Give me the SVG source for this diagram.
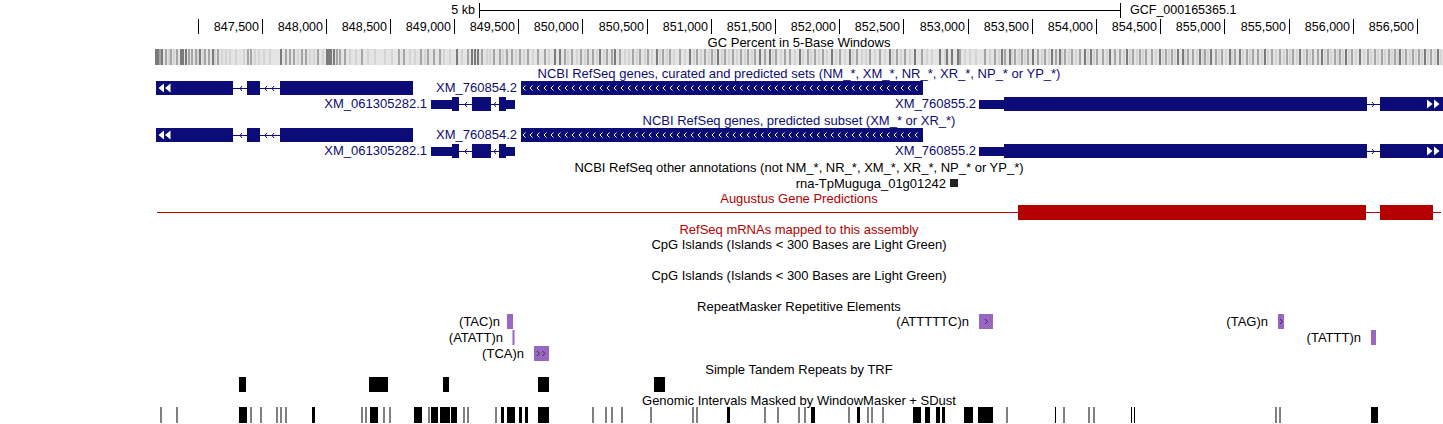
<svg xmlns="http://www.w3.org/2000/svg" width="1443" height="424" viewBox="0 0 1443 424">
<style>
text{font-family:"Liberation Sans",Arial,sans-serif;font-size:13px;fill:#000}
.r{font-size:12.5px}
.t{text-anchor:middle}
.e{text-anchor:end}
.nv{fill:#0c0c78}
.rd{fill:#b40000}
.tick{stroke:#000;stroke-width:1}
.gene{fill:#0c0c78}
.intr{stroke:#0c0c78;stroke-width:1;fill:none}
.rep{fill:#9966c4}
.repc{stroke:#222;stroke-width:0.8;fill:none}
.blk{fill:#000}
.wtri{fill:#fff}
</style>
<defs>
<pattern id="chev1" x="521" y="81" width="7" height="14" patternUnits="userSpaceOnUse">
<path d="M4.5 4.5L2 7L4.5 9.5" stroke="#fff" stroke-width="1" fill="none"/>
</pattern>
<pattern id="chev2" x="521" y="128" width="7" height="14" patternUnits="userSpaceOnUse">
<path d="M4.5 4.5L2 7L4.5 9.5" stroke="#fff" stroke-width="1" fill="none"/>
</pattern>
</defs>
<rect width="1443" height="424" fill="#fff"/>

<g id="ruler">
<text x="475" y="14" class="e r">5 kb</text>
<path class="tick" d="M479 10.5H1121M479.5 3V18M1120.5 3V18"/>
<text x="1130" y="14" class="r">GCF_000165365.1</text>
<path class="tick" d="M198.5 19V34M262.5 19V34M326.5 19V34M390.5 19V34M454.5 19V34M518.5 19V34M582.5 19V34M647.5 19V34M711.5 19V34M775.5 19V34M839.5 19V34M903.5 19V34M968.5 19V34M1032.5 19V34M1096.5 19V34M1160.5 19V34M1224.5 19V34M1289.5 19V34M1353.5 19V34M1417.5 19V34"/>
<text x="259" y="31" class="e r">847,500</text>
<text x="323" y="31" class="e r">848,000</text>
<text x="387" y="31" class="e r">848,500</text>
<text x="451" y="31" class="e r">849,000</text>
<text x="515" y="31" class="e r">849,500</text>
<text x="579" y="31" class="e r">850,000</text>
<text x="644" y="31" class="e r">850,500</text>
<text x="708" y="31" class="e r">851,000</text>
<text x="772" y="31" class="e r">851,500</text>
<text x="836" y="31" class="e r">852,000</text>
<text x="900" y="31" class="e r">852,500</text>
<text x="965" y="31" class="e r">853,000</text>
<text x="1029" y="31" class="e r">853,500</text>
<text x="1093" y="31" class="e r">854,000</text>
<text x="1157" y="31" class="e r">854,500</text>
<text x="1221" y="31" class="e r">855,000</text>
<text x="1286" y="31" class="e r">855,500</text>
<text x="1350" y="31" class="e r">856,000</text>
<text x="1414" y="31" class="e r">856,500</text>
</g>

<g id="gc-percent">
<rect x="155" y="49" width="1288" height="16" fill="#e4e4e4"/>
<path stroke="#c4c4c4" stroke-width="1" d="M169 49v16M174 49v16M198 49v16M203 49v16M215 49v16M222 49v16M226 49v16M230 49v16M236 49v16M244 49v16M255 49v16M259 49v16M264 49v16M270 49v16M298 49v16M310 49v16M314 49v16M323 49v16M350 49v16M356 49v16M368 49v16M375 49v16M385 49v16M392 49v16M410 49v16M415 49v16M425 49v16M444 49v16M450 49v16M462 49v16M487 49v16M490 49v16M503 49v16M516 49v16M524 49v16M533 49v16M549 49v16M568 49v16M577 49v16M585 49v16M597 49v16M604 49v16M625 49v16M629 49v16M637 49v16M645 49v16M652 49v16M660 49v16M667 49v16M674 49v16M685 49v16M694 49v16M701 49v16M709 49v16M715 49v16M722 49v16M729 49v16M737 49v16M745 49v16M752 49v16M773 49v16M781 49v16M795 49v16M803 49v16M811 49v16M819 49v16M827 49v16M836 49v16M845 49v16M853 49v16M862 49v16M866 49v16M875 49v16M885 49v16M893 49v16M901 49v16M910 49v16M927 49v16M932 49v16M945 49v16M965 49v16M970 49v16M976 49v16M990 49v16M999 49v16M1012 49v16M1019 49v16M1025 49v16M1042 49v16M1049 49v16M1062 49v16M1069 49v16M1076 49v16M1088 49v16M1094 49v16M1107 49v16M1124 49v16M1130 49v16M1137 49v16M1143 49v16M1156 49v16M1163 49v16M1169 49v16M1175 49v16M1185 49v16M1197 49v16M1203 49v16M1208 49v16M1219 49v16M1226 49v16M1232 49v16M1243 49v16M1250 49v16M1262 49v16M1268 49v16M1276 49v16M1284 49v16M1290 49v16M1297 49v16M1304 49v16M1310 49v16M1325 49v16M1331 49v16M1338 49v16M1343 49v16M1349 49v16M1356 49v16M1364 49v16M1371 49v16M1378 49v16M1385 49v16M1392 49v16M1398 49v16M1403 49v16M1410 49v16M1416 49v16M1422 49v16M1428 49v16M1435 49v16M1441 49v16"/>
<path stroke="#666" stroke-width="1" d="M160 49v16M166 49v16M171 49v16M177 49v16M189 49v16M192 49v16M196 49v16M205 49v16M209 49v16M218 49v16M248 49v16M251 49v16M286 49v16M290 49v16M294 49v16M302 49v16M306 49v16M318 49v16M337 49v16M340 49v16M345 49v16M362 49v16M399 49v16M404 49v16M421 49v16M428 49v16M434 49v16M440 49v16M468 49v16M482 49v16M494 49v16M500 49v16M507 49v16M512 49v16M520 49v16M528 49v16M538 49v16M545 49v16M565 49v16M572 49v16M581 49v16M588 49v16M593 49v16M607 49v16M612 49v16M620 49v16M633 49v16M640 49v16M648 49v16M663 49v16M670 49v16M680 49v16M697 49v16M705 49v16M712 49v16M725 49v16M733 49v16M741 49v16M748 49v16M755 49v16M765 49v16M776 49v16M785 49v16M790 49v16M808 49v16M815 49v16M823 49v16M840 49v16M857 49v16M870 49v16M880 49v16M897 49v16M905 49v16M922 49v16M960 49v16M985 49v16M995 49v16M1005 49v16M1015 49v16M1022 49v16M1028 49v16M1038 49v16M1045 49v16M1056 49v16M1065 49v16M1072 49v16M1080 49v16M1097 49v16M1103 49v16M1115 49v16M1120 49v16M1133 49v16M1140 49v16M1146 49v16M1152 49v16M1166 49v16M1172 49v16M1188 49v16M1193 49v16M1205 49v16M1216 49v16M1222 49v16M1235 49v16M1247 49v16M1253 49v16M1258 49v16M1272 49v16M1280 49v16M1287 49v16M1293 49v16M1307 49v16M1313 49v16M1318 49v16M1328 49v16M1335 49v16M1340 49v16M1352 49v16M1368 49v16M1375 49v16M1382 49v16M1389 49v16M1395 49v16M1406 49v16M1413 49v16M1419 49v16M1431 49v16"/>
<path stroke="#111" stroke-width="1" d="M156 49v16M158 49v16M162 49v16M181 49v16M183 49v16M186 49v16M200 49v16M213 49v16M281 49v16M327 49v16M329 49v16M331 49v16M334 49v16M457 49v16M472 49v16M475 49v16M478 49v16M555 49v16M560 49v16M600 49v16M615 49v16M657 49v16M690 49v16M718 49v16M760 49v16M770 49v16M800 49v16M832 49v16M850 49v16M890 49v16M915 49v16M940 49v16M947 49v16M952 49v16M958 49v16M1002 49v16M1010 49v16M1033 49v16M1052 49v16M1060 49v16M1085 49v16M1091 49v16M1110 49v16M1127 49v16M1160 49v16M1178 49v16M1183 49v16M1200 49v16M1211 49v16M1230 49v16M1240 49v16M1265 49v16M1300 49v16M1322 49v16M1346 49v16M1360 49v16M1400 49v16M1425 49v16M1438 49v16"/>
<text x="799" y="47" class="t">GC Percent in 5-Base Windows</text>
</g>

<g id="refseq-curated">
<path class="intr" d="M233 88.5H247M242 86L240 88.5L242 91M260 88.5H280M267 86L265 88.5L267 91M274 86L272 88.5L274 91"/>
<rect class="gene" x="156" y="81" width="77" height="14"/>
<rect class="gene" x="247" y="81" width="13" height="14"/>
<rect class="gene" x="280" y="81" width="133" height="14"/>
<path class="wtri" d="M164 83.5L158.5 88L164 92.5ZM170.5 83.5L165 88L170.5 92.5Z"/>
<text x="517" y="92" class="e nv">XM_760854.2</text>
<rect class="gene" x="521" y="81" width="402" height="14"/>
<rect x="523" y="81" width="397" height="14" fill="url(#chev1)"/>
<text x="427" y="108" class="e nv">XM_061305282.1</text>
<path class="intr" d="M459 104.5H472M467 102L465 104.5L467 107M491 104.5H499M496 102L494 104.5L496 107"/>
<rect class="gene" x="431" y="100" width="21" height="9"/>
<rect class="gene" x="452" y="97" width="7" height="14"/>
<rect class="gene" x="472" y="97" width="19" height="14"/>
<rect class="gene" x="499" y="97" width="7" height="14"/>
<rect class="gene" x="506" y="100" width="9" height="9"/>
<text x="976" y="108" class="e nv">XM_760855.2</text>
<path class="intr" d="M1367 104.5H1380M1372 102L1374 104.5L1372 107"/>
<rect class="gene" x="979" y="100" width="25" height="9"/>
<rect class="gene" x="1004" y="97" width="363" height="14"/>
<rect class="gene" x="1380" y="97" width="63" height="14"/>
<path class="wtri" d="M1427 99.5L1432.5 104L1427 108.5ZM1434 99.5L1439.5 104L1434 108.5Z"/>
<text x="799" y="78" class="t nv">NCBI RefSeq genes, curated and predicted sets (NM_*, XM_*, NR_*, XR_*, NP_* or YP_*)</text>
</g>

<g id="refseq-predicted">
<path class="intr" d="M233 135.5H247M242 133L240 135.5L242 138M260 135.5H280M267 133L265 135.5L267 138M274 133L272 135.5L274 138"/>
<rect class="gene" x="156" y="128" width="77" height="14"/>
<rect class="gene" x="247" y="128" width="13" height="14"/>
<rect class="gene" x="280" y="128" width="133" height="14"/>
<path class="wtri" d="M164 130.5L158.5 135L164 139.5ZM170.5 130.5L165 135L170.5 139.5Z"/>
<text x="517" y="139" class="e nv">XM_760854.2</text>
<rect class="gene" x="521" y="128" width="402" height="14"/>
<rect x="523" y="128" width="397" height="14" fill="url(#chev2)"/>
<text x="427" y="155" class="e nv">XM_061305282.1</text>
<path class="intr" d="M459 151.5H472M467 149L465 151.5L467 154M491 151.5H499M496 149L494 151.5L496 154"/>
<rect class="gene" x="431" y="147" width="21" height="9"/>
<rect class="gene" x="452" y="144" width="7" height="14"/>
<rect class="gene" x="472" y="144" width="19" height="14"/>
<rect class="gene" x="499" y="144" width="7" height="14"/>
<rect class="gene" x="506" y="147" width="9" height="9"/>
<text x="976" y="155" class="e nv">XM_760855.2</text>
<path class="intr" d="M1367 151.5H1380M1372 149L1374 151.5L1372 154"/>
<rect class="gene" x="979" y="147" width="25" height="9"/>
<rect class="gene" x="1004" y="144" width="363" height="14"/>
<rect class="gene" x="1380" y="144" width="63" height="14"/>
<path class="wtri" d="M1427 146.5L1432.5 151L1427 155.5ZM1434 146.5L1439.5 151L1434 155.5Z"/>
<text x="799" y="125" class="t nv">NCBI RefSeq genes, predicted subset (XM_* or XR_*)</text>
</g>

<g id="refseq-other">
<text x="799" y="172" class="t">NCBI RefSeq other annotations (not NM_*, NR_*, XM_*, XR_*, NP_* or YP_*)</text>
<text x="946" y="188" class="e">rna-TpMuguga_01g01242</text>
<rect x="950" y="179" width="8" height="8" fill="#222"/>
</g>

<g id="augustus">
<text x="799" y="203" class="t rd">Augustus Gene Predictions</text>
<path d="M157 212.5H1441" stroke="#b40000" stroke-width="1"/>
<rect x="1018" y="205" width="348" height="15" fill="#b40000"/>
<rect x="1380" y="205" width="53" height="15" fill="#b40000"/>
</g>

<g id="refseq-mrna">
<text x="799" y="234" class="t rd">RefSeq mRNAs mapped to this assembly</text>
</g>

<g id="cpg-1">
<text x="799" y="249" class="t">CpG Islands (Islands &lt; 300 Bases are Light Green)</text>
</g>
<g id="cpg-2">
<text x="799" y="280" class="t">CpG Islands (Islands &lt; 300 Bases are Light Green)</text>
</g>

<g id="repeatmasker">
<text x="799" y="311" class="t">RepeatMasker Repetitive Elements</text>
<text x="500" y="326" class="e">(TAC)n</text>
<rect class="rep" x="507" y="314" width="6" height="15"/>
<text x="503" y="342" class="e">(ATATT)n</text>
<rect class="rep" x="512.5" y="330" width="2" height="15"/>
<text x="524" y="358" class="e">(TCA)n</text>
<rect class="rep" x="534" y="346" width="15" height="15"/>
<path class="repc" d="M537 351L539.5 353.5L537 356M542.5 351L545 353.5L542.5 356"/>
<text x="969" y="326" class="e">(ATTTTTC)n</text>
<rect class="rep" x="979" y="314" width="14" height="15"/>
<path class="repc" d="M985 319L987.5 321.5L985 324"/>
<text x="1268" y="326" class="e">(TAG)n</text>
<rect class="rep" x="1278" y="314" width="6" height="15"/>
<path class="repc" d="M1280 319L1282.5 321.5L1280 324"/>
<text x="1361" y="342" class="e">(TATTT)n</text>
<rect class="rep" x="1371" y="330" width="5" height="15"/>
</g>

<g id="trf">
<text x="799" y="374" class="t">Simple Tandem Repeats by TRF</text>
<rect class="blk" x="239" y="377" width="7" height="15"/>
<rect class="blk" x="369" y="377" width="19" height="15"/>
<rect class="blk" x="443" y="377" width="6" height="15"/>
<rect class="blk" x="538" y="377" width="11" height="15"/>
<rect class="blk" x="654" y="377" width="11" height="15"/>
</g>

<g id="windowmasker">
<text x="799" y="405" class="t">Genomic Intervals Masked by WindowMasker + SDust</text>
<path stroke="#000" fill="none" d="M161 407v16M177 407v16M251 407v16M261 407v16M277 407v16M281 407v16M286 407v16M362 407v16M366 407v16M384 407v16M390 407v16M429 407v16M464 407v16M468 407v16M496 407v16M593 407v16M606 407v16M612 407v16M622 407v16M651 407v16M693 407v16M697 407v16M765 407v16M778 407v16M799 407v16M805 407v16M849 407v16M868 407v16M872 407v16M883 407v16M1007 407v16M1055.5 407v16M1064 407v16M1089 407v16M1094 407v16M1131.5 407v16M1134.5 407v16M1276 407v16M1280 407v16"/>
<rect class="blk" x="239" y="407" width="8" height="16"/>
<rect class="blk" x="312" y="407" width="3" height="16"/>
<rect class="blk" x="370" y="407" width="8" height="16"/>
<rect class="blk" x="414" y="407" width="8" height="16"/>
<rect class="blk" x="431" y="407" width="7" height="16"/>
<rect class="blk" x="440" y="407" width="10" height="16"/>
<rect class="blk" x="451" y="407" width="6" height="16"/>
<rect class="blk" x="501" y="407" width="3" height="16"/>
<rect class="blk" x="507" y="407" width="8" height="16"/>
<rect class="blk" x="519" y="407" width="3" height="16"/>
<rect class="blk" x="525" y="407" width="3" height="16"/>
<rect class="blk" x="538" y="407" width="11" height="16"/>
<rect class="blk" x="727" y="407" width="3" height="16"/>
<rect class="blk" x="811" y="407" width="4" height="16"/>
<rect class="blk" x="857" y="407" width="3" height="16"/>
<rect class="blk" x="913" y="407" width="8" height="16"/>
<rect class="blk" x="925" y="407" width="5" height="16"/>
<rect class="blk" x="936" y="407" width="4" height="16"/>
<rect class="blk" x="942" y="407" width="3" height="16"/>
<rect class="blk" x="964" y="407" width="9" height="16"/>
<rect class="blk" x="978" y="407" width="15" height="16"/>
<rect class="blk" x="1371" y="407" width="7" height="16"/>
</g>
</svg>
